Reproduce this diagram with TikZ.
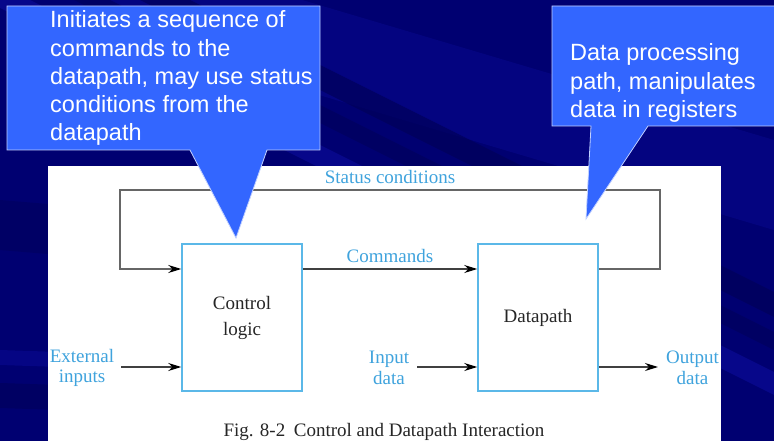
\documentclass[tikz,border=0pt]{standalone}
\usepackage{fontspec}
\setmainfont{Liberation Serif}
\newfontfamily\calloutfont{Liberation Sans}
\usetikzlibrary{arrows.meta}

\definecolor{navy}{HTML}{000084}
\definecolor{navydark}{HTML}{00005A}
\definecolor{navylight}{HTML}{1212B0}
\definecolor{calloutblue}{HTML}{3366FF}
\definecolor{boxblue}{HTML}{5BB8E8}
\definecolor{labelblue}{HTML}{3FA3DD}
\definecolor{wiregray}{HTML}{666666}

\begin{document}
\begin{tikzpicture}[x=1pt,y=-1pt,
  block/.style={draw=boxblue,line width=1.5pt,minimum width=120pt,minimum height=147pt,
    inner sep=0pt,font=\fontsize{19}{26}\selectfont,text=black!85,align=center},
  sig/.style={font=\fontsize{19}{20.5}\selectfont,text=labelblue,align=center,inner sep=0pt},
  wire/.style={draw=black!75,line width=1.2pt,-{Stealth[length=13pt,width=8pt,color=black]}},
  fb/.style={draw=wiregray,line width=1.2pt},
  callout/.style={fill=calloutblue,draw=white!70!calloutblue,line width=0.8pt},
  callouttext/.style={text=white,font=\calloutfont\fontsize{23.5}{28.3}\selectfont,
    align=left,inner sep=0pt,anchor=north west}]

\useasboundingbox (0,0) rectangle (774,441);

% slide background with diagonal streaks
\fill[navy] (0,0) rectangle (774,441);
\begin{scope}
  \clip (0,0) rectangle (774,441);
  \fill[navydark,opacity=0.45] (0,0) rectangle (774,441);
  \fill[navylight,opacity=0.25] (100,-60) -- (774,140) -- (774,230) -- (100,30) -- cycle;
  \fill[navydark,opacity=0.7] (0,-95) -- (774,292) -- (774,317) -- (0,-70) -- cycle;
  \fill[navydark,opacity=0.6] (0,-55) -- (774,332) -- (774,350) -- (0,-37) -- cycle;
  \fill[navylight,opacity=0.4] (0,-15) -- (774,372) -- (774,395) -- (0,8) -- cycle;
  \fill[navydark,opacity=0.5] (0,200) -- (60,205) -- (60,255) -- (0,250) -- cycle;
  \fill[navylight,opacity=0.3] (0,350) -- (60,352) -- (60,367) -- (0,365) -- cycle;
  \fill[navydark,opacity=0.6] (0,383) -- (60,385) -- (60,410) -- (0,408) -- cycle;
\end{scope}

% figure panel
\fill[white] (48,166) rectangle (721,441);

% blocks
\node[block] (ctl) at (242,317.5) {Control\\logic};
\node[block] (dp) at (538,317.5) {Datapath};

% connector end points
\coordinate (fbR) at (660,190);
\coordinate (fbL) at (120,190);
\coordinate (extIn) at (121,367);
\coordinate (datIn) at (417,367);
\coordinate (datOut) at (658,367);

% status feedback loop
\draw[fb] (dp.east |- 0,269) -| (fbR) -- (fbL) |- ([xshift=-12pt]ctl.west |- 0,269);
\draw[wire,draw=wiregray] ([xshift=-16pt]ctl.west |- 0,269) -- (ctl.west |- 0,269);

% signals
\draw[wire] (ctl.east |- 0,269) -- (dp.west |- 0,269);
\draw[wire] (extIn) -- (ctl.west |- extIn);
\draw[wire] (datIn) -- (dp.west |- datIn);
\draw[wire] (dp.east |- datOut) -- (datOut);

% signal labels
\node[sig] (lstat) at (390,177) {Status conditions};
\node[sig] (lcmd) at (390,256) {Commands};
\node[sig] (lext) at (82,368) {External\\inputs};
\node[sig] (lin) at (389,368) {Input\\data};
\node[sig] (lout) at (692.5,368) {Output\\data};

% caption
\node[font=\fontsize{19}{21}\selectfont,text=black!85,inner sep=0pt] (cap) at (384,432)
  {Fig. 8-2\hspace{0.45em}Control and Datapath Interaction};

% callouts
\draw[callout] (7,6) -- (320,6) -- (320,150) -- (267,150) -- (236,238) -- (190,150) -- (7,150) -- cycle;
\node[callouttext] (c1) at (50,10.5)
  {Initiates a sequence of\\commands to the\\datapath, may use status\\conditions from the\\datapath};

\draw[callout] (552,6) -- (776,6) -- (776,126) -- (648,126) -- (586,219) -- (591,126) -- (552,126) -- cycle;
\node[callouttext] (c2) at (570,43.5)
  {Data processing\\path, manipulates\\data in registers};

\end{tikzpicture}
\end{document}
